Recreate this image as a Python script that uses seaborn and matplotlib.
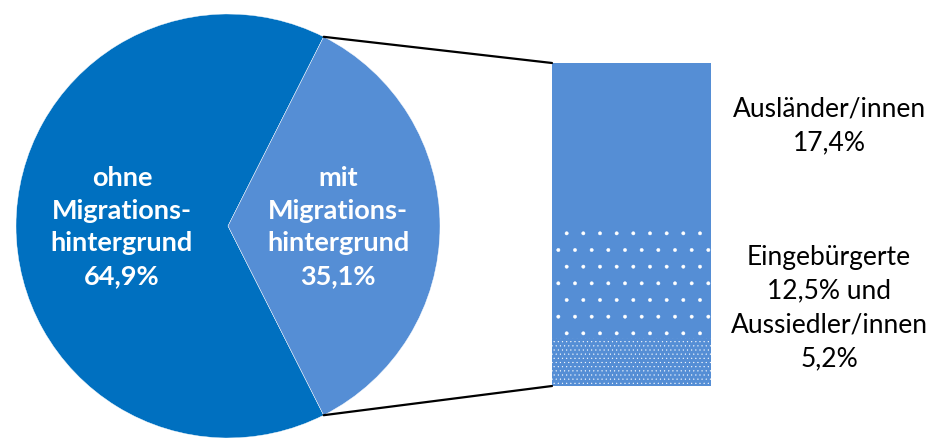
import matplotlib
matplotlib.use("Agg")
import matplotlib.pyplot as plt
import seaborn as sns
import pandas as pd
from matplotlib.patches import ConnectionPatch
import numpy as np

# ---- data ----
pie_labels = ["ohne\nMigrations-\nhintergrund\n64,9%", "mit\nMigrations-\nhintergrund\n35,1%"]
pie_values = [64.9, 35.1]
bar_categories = ["Ausländer/innen", "Eingebürgerte", "Aussiedler/innen"]
bar_values = [17.4, 12.5, 5.2]
bar_texts = ["Ausländer/innen\n17,4%", "Eingebürgerte\n12,5% und\nAussiedler/innen\n5,2%"]

sns.set_theme(style="white")
plt.rcParams['font.family'] = ['Lato', 'DejaVu Sans']
plt.rcParams['hatch.linewidth'] = 0.3

DARK = "#0070C0"
LIGHT = "#558ED5"

fig = plt.figure(figsize=(9.33, 4.38), dpi=100)
W, H = 933, 438

# pie axes (pixel box)
cx, cy, r = 228, 226, 212
ax1 = fig.add_axes([(cx - r) / W, (H - cy - r) / H, 2 * r / W, 2 * r / H])
half = pie_values[1] * 3.6 / 2
wedges, _ = ax1.pie(pie_values, colors=[DARK, LIGHT], startangle=half,
                    counterclock=True, radius=1,
                    wedgeprops=dict(linewidth=0.3, edgecolor="white"))
ax1.set_xlim(-1, 1)
ax1.set_ylim(-1, 1)
ax1.set_aspect("equal")
ax1.axis("off")

txt_kw = dict(color="white", fontweight="bold", fontsize=19.5, ha="center",
              va="center", linespacing=1.42)
ax1.text(-0.5, -0.005, pie_labels[0], **txt_kw)
ax1.text(0.52, -0.005, pie_labels[1], **txt_kw)

# bar axes
bx0, bx1, by0, by1 = 552, 711, 63, 386
ax2 = fig.add_axes([bx0 / W, (H - by1) / H, (bx1 - bx0) / W, (by1 - by0) / H])
cum = np.cumsum(bar_values[::-1])[::-1]  # 35.1, 17.7, 5.2
df = pd.DataFrame({"x": ["a"] * 3, "y": cum, "seg": bar_categories})
hatches = [None, ".", "...."]
for i in range(3):
    sns.barplot(data=df.iloc[[i]], x="x", y="y", ax=ax2, color=LIGHT,
                saturation=1, width=1.0, errorbar=None)
for p, h in zip(ax2.patches, hatches):
    p.set_facecolor(LIGHT)
    p.set_linewidth(0)
    if h:
        p.set_hatch(h)
        p.set_edgecolor("white")
ax2.set_xlim(-0.5, 0.5)
ax2.set_ylim(0, sum(bar_values))
ax2.axis("off")

# connection lines
total = sum(bar_values)
for ang, yb in [(half, total), (-half, 0)]:
    xa, ya = np.cos(np.radians(ang)), np.sin(np.radians(ang))
    con = ConnectionPatch(xyA=(xa, ya), coordsA=ax1.transData,
                          xyB=(-0.5, yb), coordsB=ax2.transData,
                          color="black", linewidth=1.6)
    fig.add_artist(con)

fig.text(829 / W, 1 - 126 / H, bar_texts[0], fontsize=19, ha="center",
         va="center", linespacing=1.45, color="black")
fig.text(829 / W, 1 - 308 / H, bar_texts[1], fontsize=19, ha="center",
         va="center", linespacing=1.45, color="black")

fig.savefig("out.png", dpi=100)
